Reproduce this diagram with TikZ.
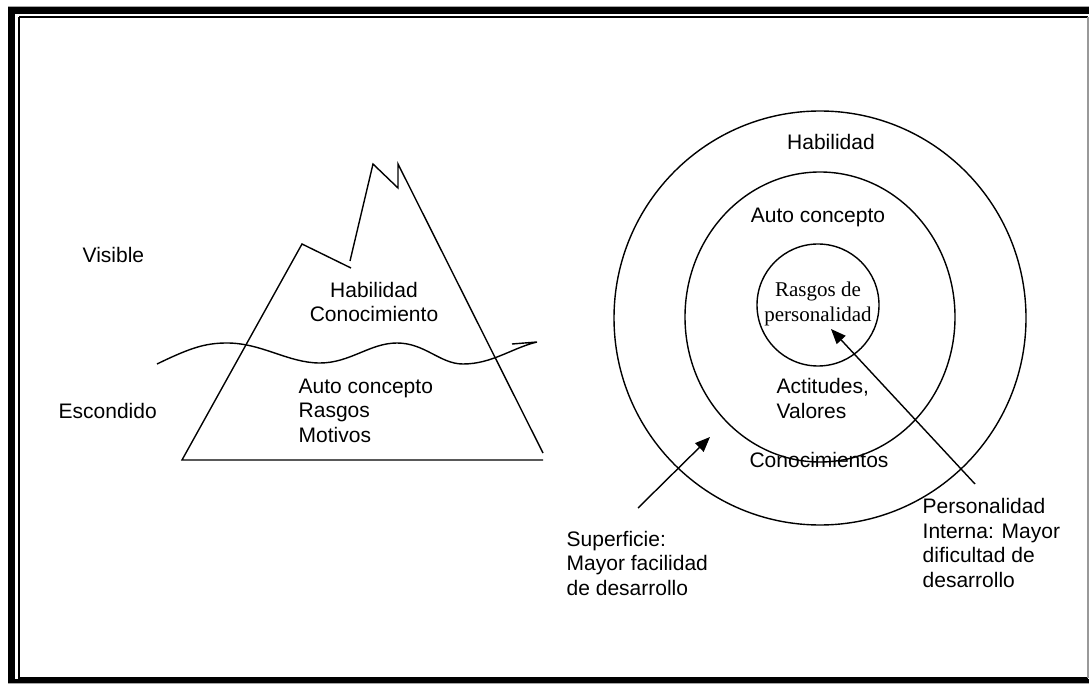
\documentclass[tikz,border=0pt]{standalone}
\usepackage{fontspec}
\setmainfont{Liberation Sans}
\newfontfamily\timesfont{Liberation Serif}
\usetikzlibrary{arrows.meta,shapes.geometric}
\begin{document}
\begin{tikzpicture}[x=1pt,y=-1pt,
  line width=1.4pt,
  lbl/.style={inner sep=0pt,font=\fontsize{21}{24.5}\selectfont},
  ring/.style={draw,ellipse,inner sep=0pt,line width=1.4pt},
  pointer/.style={line width=1.4pt,-{Triangle[length=15pt,width=12pt]}}]
\useasboundingbox (0,0) rectangle (1089,684);
% page frame: heavy bars left, top and bottom, thin inner rule
\fill[black] (8,7) rectangle (15,683);
\fill[black] (8,7) rectangle (1089,14);
\fill[black] (8,679) rectangle (1089,682.5);
\draw[gray!70,line width=0.8pt] (8,6.5) -- (1089,6.5);
\draw[gray!70,line width=0.8pt] (8,683.5) -- (1089,683.5);
\draw[line width=1.5pt] (19,16.8) -- (1088,16.8);
\draw[line width=1.5pt] (19,16.8) -- (19,677.8) -- (1088,677.8);
\draw[gray!80,line width=1.2pt] (1088,16.8) -- (1088,677.8);

% iceberg
\draw (351,268) -- (302,244) -- (182,460) -- (543,460);
\draw (350,261) -- (373,164) -- (398,188) -- (398,164) -- (543,453);
% water line
\draw (157,364) .. controls (190,348) and (205,343) .. (227,343)
  .. controls (262,343) and (288,363) .. (320,363)
  .. controls (350,363) and (370,343) .. (397,343)
  .. controls (425,343) and (440,364) .. (463,364)
  .. controls (492,364) and (512,348) .. (537,342) -- (512,344);

% labels (multi-line nodes are placed by the baseline of their last line)
\node[lbl,anchor=base west] (visible) at (82,263) {Visible};
\node[lbl,anchor=base west] (escondido) at (58,418) {Escondido};
\node[lbl,anchor=base,align=center] (top) at (374,322) {Habilidad\\Conocimiento};
\node[lbl,anchor=base west,align=left] (bottom) at (298,442) {Auto concepto\\Rasgos\\Motivos};

% concentric rings
\node[ring,minimum width=412pt,minimum height=414pt] (outer) at (820,318) {};
\node[ring,minimum width=270pt,minimum height=290pt] (middle) at (820,317) {};
\node[ring,minimum width=122pt,minimum height=122pt] (inner) at (818,305) {};

\node[lbl,anchor=base] (hab) at (831,150) {Habilidad};
\node[lbl,anchor=base] (auto) at (818,223) {Auto concepto};
\node[lbl,anchor=base,align=center,font=\timesfont\fontsize{21}{25}\selectfont] (rasgos) at (818,322) {Rasgos de\\personalidad};
\node[lbl,anchor=base west,align=left] (act) at (776,418) {Actitudes,\\Valores};
\node[lbl,anchor=base] (con) at (819,467) {Conocimientos};

\node[lbl,anchor=base west,align=left] (sup) at (566,595) {Superficie:\\Mayor facilidad\\de desarrollo};
\node[lbl,anchor=base west,align=left] (pers) at (922,587) {Personalidad\\Interna: Mayor\\dificultad de\\desarrollo};

\coordinate (supfrom) at (638,508);
\coordinate (supto) at (710,437);
\coordinate (persfrom) at (975,484);
\coordinate (persto) at (831,329);
\draw[pointer] (supfrom) -- (supto);
\draw[pointer] (persfrom) -- (persto);
\end{tikzpicture}
\end{document}
